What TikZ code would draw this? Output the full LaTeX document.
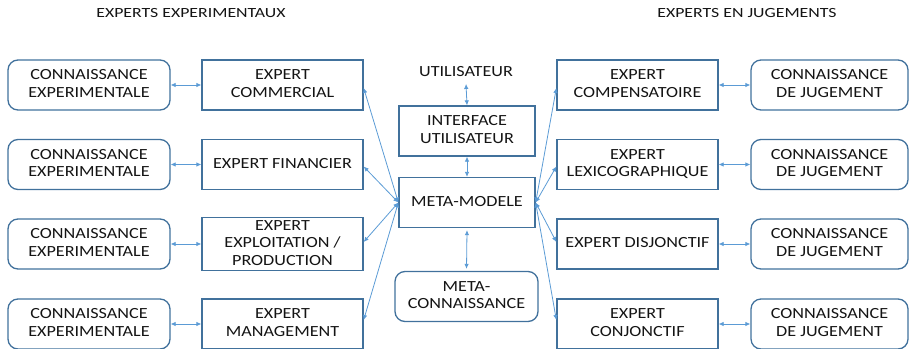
\documentclass[tikz,border=0pt]{standalone}
\usepackage{fontspec}
\setmainfont{Carlito}
\usepackage{graphicx}
\usetikzlibrary{arrows.meta,calc}

\definecolor{boxline}{RGB}{65,113,156}
\definecolor{linkblue}{RGB}{91,155,213}
\definecolor{ink}{RGB}{20,20,20}

% widened multi-line label
\newcommand{\wlabel}[2][1.17]{\scalebox{#1}[1]{\begin{tabular}{@{}c@{}}#2\end{tabular}}}

\tikzset{
  boxbase/.style={draw=boxline, line width=1.3pt, inner sep=0pt, text=ink,
    font=\fontsize{15.5}{17.5}\selectfont},
  knowbox/.style={boxbase, rounded corners=10pt, minimum width=#1, minimum height=50pt},
  knowbox/.default=162pt,
  expertbox/.style={boxbase, minimum width=161pt, minimum height=50pt},
  centerbox/.style={boxbase, minimum width=136pt, minimum height=50pt},
  plainlabel/.style={inner sep=2pt, text=ink, font=\fontsize{15.5}{17.5}\selectfont},
  headlabel/.style={inner sep=0pt, text=ink, font=\fontsize{14}{16}\selectfont},
  link/.style={draw=linkblue, line width=0.8pt,
    {Latex[length=5pt,width=4.5pt]}-{Latex[length=5pt,width=4.5pt]}}
}

\begin{document}
\begin{tikzpicture}[x=1pt,y=-1pt]
  \useasboundingbox (0,0) rectangle (909,348);

  % column headings
  \node[headlabel] (hleft)  at (191,14) {\wlabel[1.27]{EXPERTS EXPERIMENTAUX}};
  \node[headlabel] (hright) at (747,14) {\wlabel[1.27]{EXPERTS EN JUGEMENTS}};

  % experiential side
  \node[knowbox] (kl1) at (89,85)    {\wlabel{CONNAISSANCE\\EXPERIMENTALE}};
  \node[knowbox] (kl2) at (89,164.5) {\wlabel{CONNAISSANCE\\EXPERIMENTALE}};
  \node[knowbox] (kl3) at (89,244)   {\wlabel{CONNAISSANCE\\EXPERIMENTALE}};
  \node[knowbox] (kl4) at (89,324)   {\wlabel{CONNAISSANCE\\EXPERIMENTALE}};

  \node[expertbox] (el1) at (282.5,85)    {\wlabel{EXPERT\\COMMERCIAL}};
  \node[expertbox] (el2) at (282.5,164.5) {\wlabel{EXPERT FINANCIER}};
  \node[expertbox] (el3) at (282.5,244)   {\wlabel{EXPERT\\EXPLOITATION /\\PRODUCTION}};
  \node[expertbox] (el4) at (282.5,324)   {\wlabel{EXPERT\\MANAGEMENT}};

  % centre column
  \node[plainlabel] (user) at (466,73) {\wlabel{UTILISATEUR}};
  \node[centerbox] (iface) at (467,131)   {\wlabel{INTERFACE\\UTILISATEUR}};
  \node[centerbox] (meta)  at (467,202.5) {\wlabel{META-MODELE}};
  \node[knowbox=143pt] (metak) at (466.5,296.5) {\wlabel{META-\\CONNAISSANCE}};

  % judgement side
  \node[expertbox] (er1) at (637.5,85)    {\wlabel{EXPERT\\COMPENSATOIRE}};
  \node[expertbox] (er2) at (637.5,164.5) {\wlabel{EXPERT\\LEXICOGRAPHIQUE}};
  \node[expertbox] (er3) at (637.5,244)   {\wlabel{EXPERT DISJONCTIF}};
  \node[expertbox] (er4) at (637.5,324)   {\wlabel{EXPERT\\CONJONCTIF}};

  \node[knowbox=157pt] (kr1) at (829.5,85)    {\wlabel{CONNAISSANCE\\DE JUGEMENT}};
  \node[knowbox=157pt] (kr2) at (829.5,164.5) {\wlabel{CONNAISSANCE\\DE JUGEMENT}};
  \node[knowbox=157pt] (kr3) at (829.5,244)   {\wlabel{CONNAISSANCE\\DE JUGEMENT}};
  \node[knowbox=157pt] (kr4) at (829.5,324)   {\wlabel{CONNAISSANCE\\DE JUGEMENT}};

  % knowledge <-> expert links
  \foreach \i in {1,...,4} {
    \draw[link] (kl\i.east) -- (el\i.west);
    \draw[link] (er\i.east) -- (kr\i.west);
  }

  % centre column links
  \draw[link] (user.south) -- (iface.north);
  \draw[link] (iface.south) -- (meta.north);
  \draw[link] ([yshift=-2pt]meta.south) -- ([yshift=2pt]metak.north);

  % meta-model <-> experts
  \draw[link] (meta.west) -- ([yshift=-3pt]el1.east);
  \draw[link] (meta.west) -- ([yshift=-2pt]el2.east);
  \draw[link] (meta.west) -- ([yshift=2pt]el3.east);
  \draw[link] (meta.west) -- ([yshift=4pt]el4.east);
  \draw[link] (meta.east) -- ([yshift=-3pt]er1.west);
  \draw[link] (meta.east) -- ([yshift=-2pt]er2.west);
  \draw[link] (meta.east) -- ([yshift=2pt]er3.west);
  \draw[link] (meta.east) -- ([yshift=4pt]er4.west);
\end{tikzpicture}
\end{document}
